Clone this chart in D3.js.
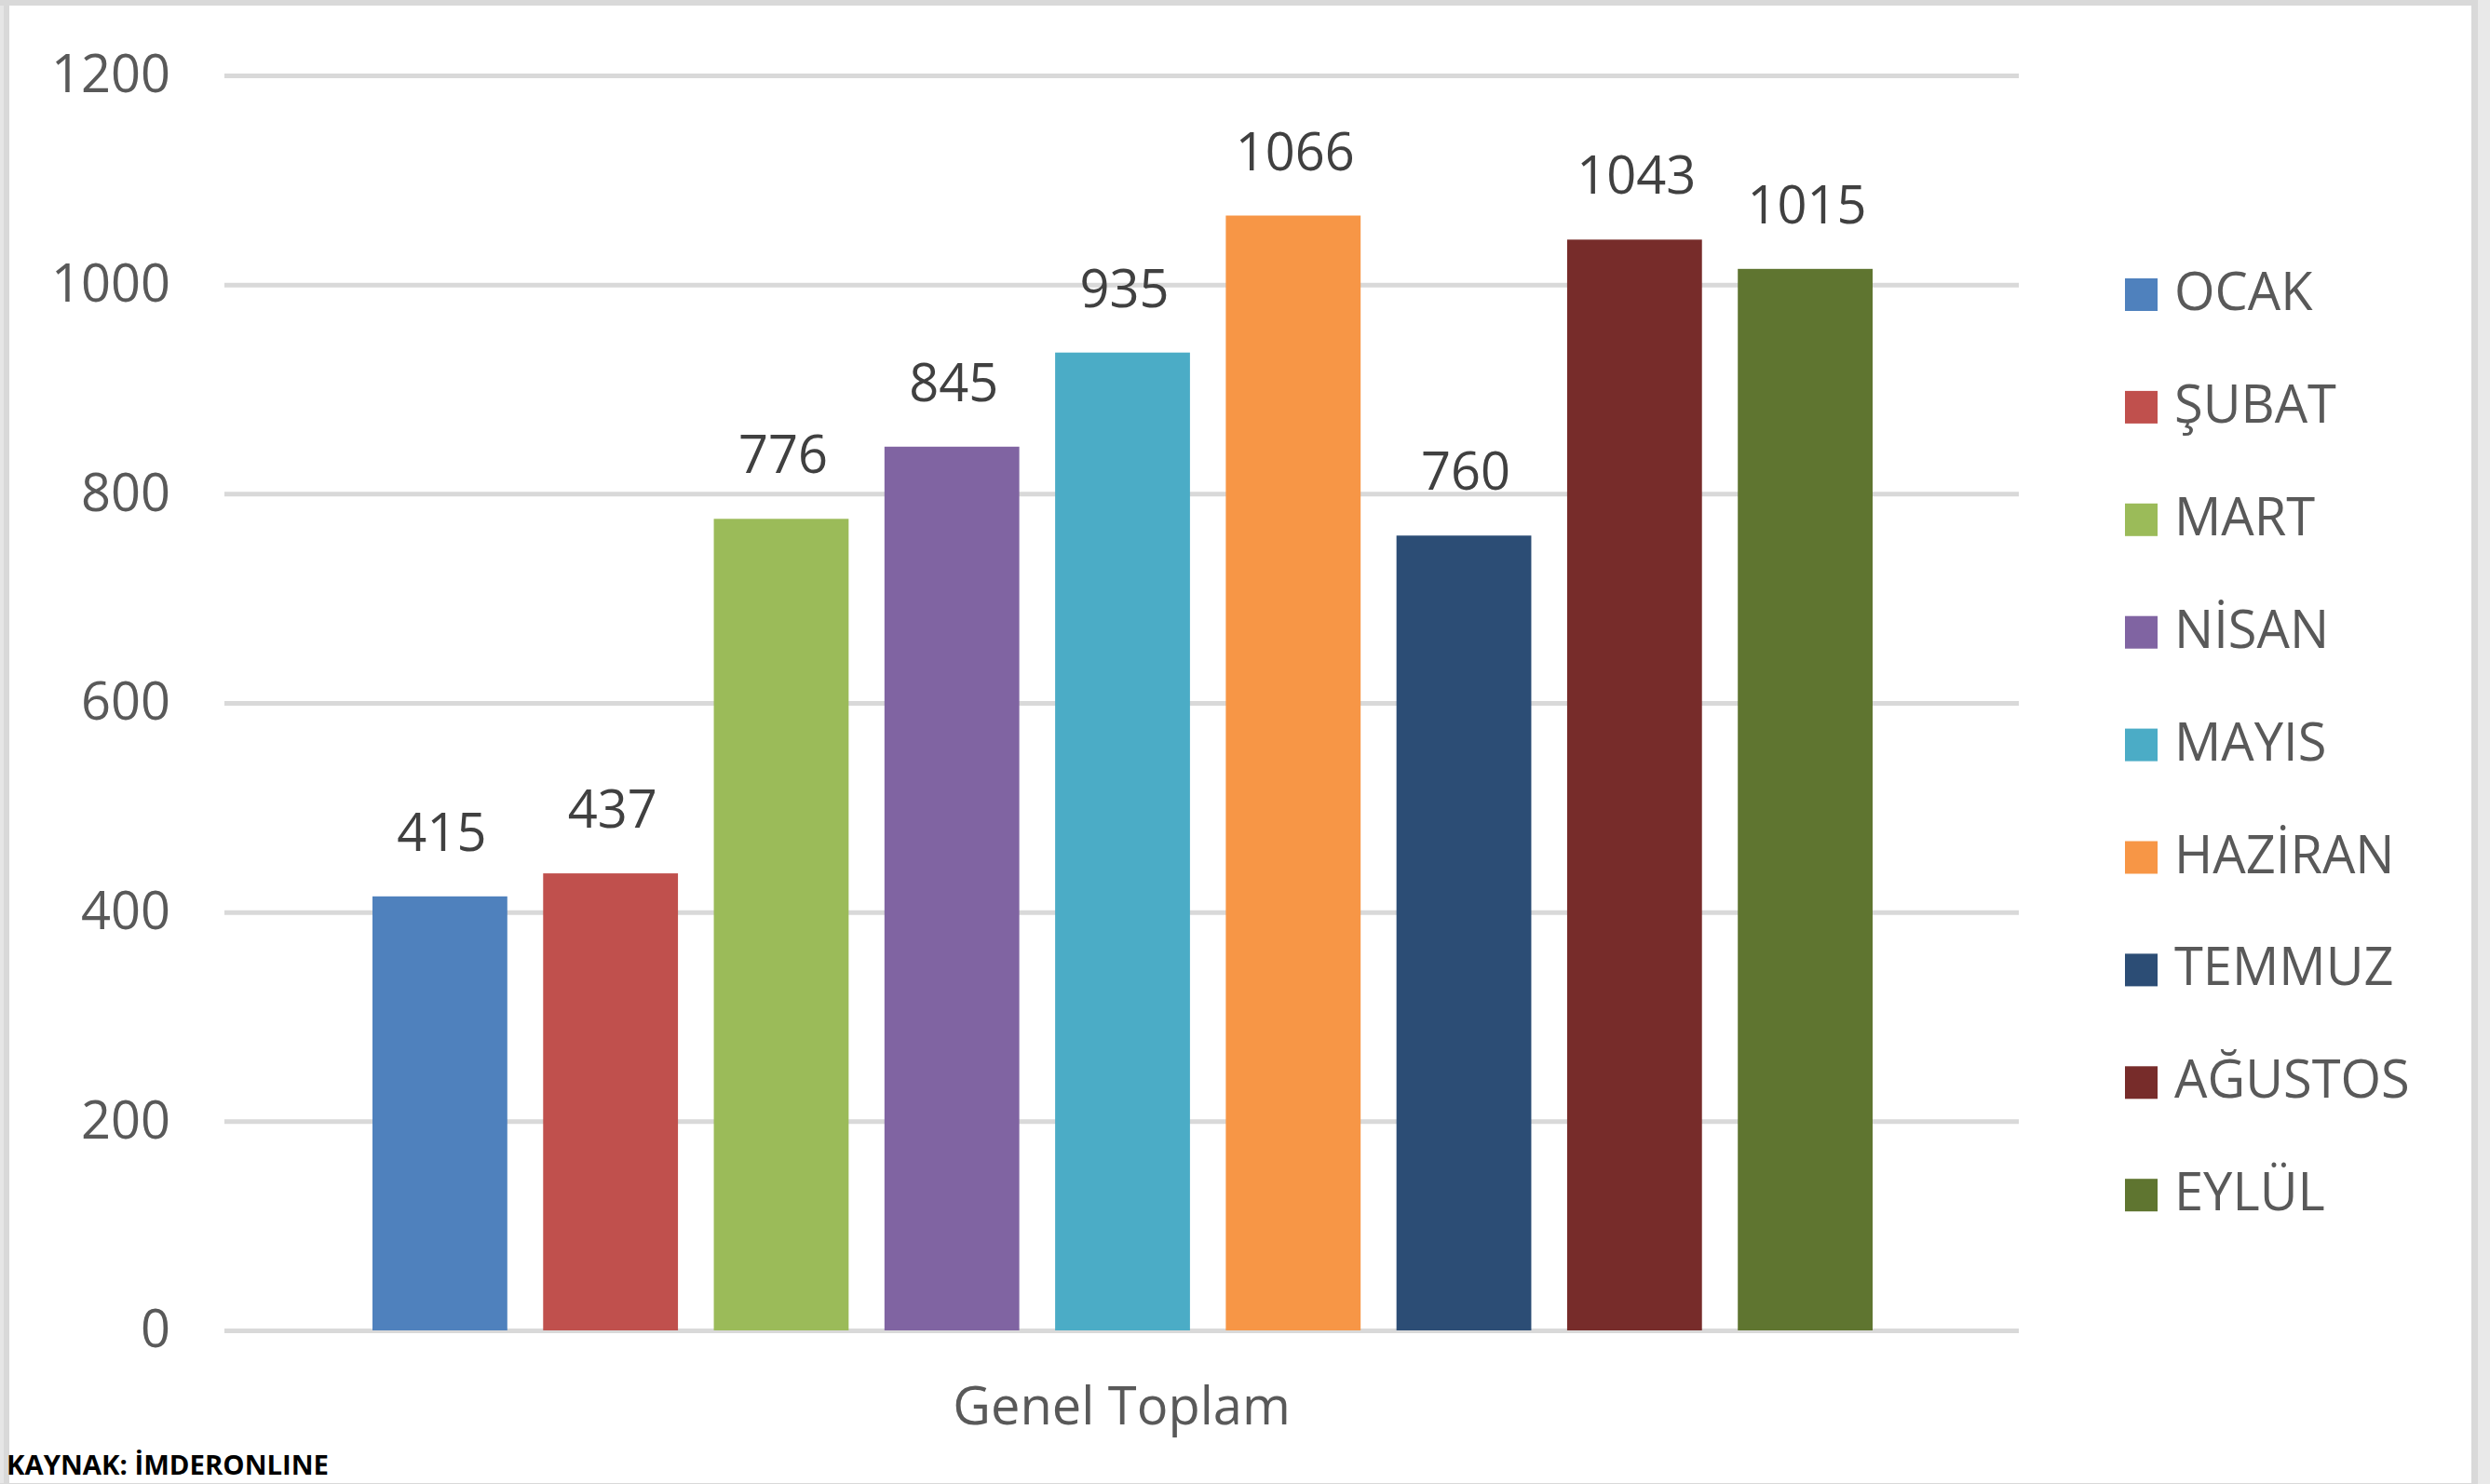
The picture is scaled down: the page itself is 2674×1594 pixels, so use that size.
<!DOCTYPE html>
<html>
<head>
<meta charset="utf-8">
<script src="https://cdn.jsdelivr.net/npm/d3@7"></script>
<style>
  body { margin: 0; background: #e9e9e9; }
  text { font-family: "Open Sans", sans-serif; }
</style>
</head>
<body>
<script>
// data
var months = ["OCAK", "ŞUBAT", "MART", "NİSAN", "MAYIS", "HAZİRAN", "TEMMUZ", "AĞUSTOS", "EYLÜL"];
var values = [415, 437, 776, 845, 935, 1066, 760, 1043, 1015];
var colors = ["#4f81bd", "#c0504d", "#9bbb59", "#8064a2", "#4bacc6", "#f79646", "#2c4d75", "#772c2a", "#5f7530"];
var yTicks = [0, 200, 400, 600, 800, 1000, 1200];
var categoryLabel = "Genel Toplam";
var sourceText = "KAYNAK: İMDERONLINE";

var width = 2674, height = 1594;
var plot = {left: 241, right: 2168, top: 81, bottom: 1429};

var svg = d3.select("body").append("svg")
    .attr("width", width)
    .attr("height", height);

// frame
svg.append("rect").attr("x", 0).attr("y", 0).attr("width", 2661).attr("height", height).attr("fill", "#d9d9d9");
svg.append("rect").attr("x", 0).attr("y", 6).attr("width", 4).attr("height", height).attr("fill", "#e6e6e6");
svg.append("rect").attr("x", 10).attr("y", 6).attr("width", 2644).attr("height", height - 6).attr("fill", "#fff");
svg.append("line").attr("x1", 0).attr("x2", 2661).attr("y1", 1593.5).attr("y2", 1593.5)
    .attr("stroke", "#d9d9d9").attr("stroke-width", 1);

// scales
var y = d3.scaleLinear().domain([0, 1200]).range([plot.bottom, plot.top]);
var x = d3.scaleBand().domain(months).range([400, 2011]).paddingInner(0.21).paddingOuter(0);

// y axis + gridlines
var yAxis = svg.append("g")
    .attr("transform", "translate(" + plot.left + ",0)")
    .call(d3.axisLeft(y).tickValues(yTicks).tickFormat(d3.format("d"))
        .tickSize(-(plot.right - plot.left)).tickPadding(58));
yAxis.select(".domain").remove();
yAxis.selectAll(".tick line").attr("stroke", "#d9d9d9").attr("stroke-width", 5);
yAxis.selectAll(".tick text")
    .attr("font-family", "Open Sans")
    .attr("font-size", 56)
    .attr("fill", "#595959");

// bars
svg.selectAll(".bar")
  .data(months)
  .enter().append("rect")
    .attr("class", "bar")
    .attr("x", d => x(d))
    .attr("y", (d, i) => y(values[i]))
    .attr("width", x.bandwidth())
    .attr("height", (d, i) => y(0) - y(values[i]))
    .attr("fill", (d, i) => colors[i]);

// value labels
svg.selectAll(".label")
  .data(months)
  .enter().append("text")
    .attr("class", "label")
    .attr("x", d => x(d) + x.bandwidth() / 2 + 2)
    .attr("y", (d, i) => y(values[i]) - 49)
    .attr("text-anchor", "middle")
    .attr("font-size", 56)
    .attr("fill", "#404040")
    .text((d, i) => values[i]);

// category label
svg.append("text")
    .attr("x", (plot.left + plot.right) / 2)
    .attr("y", 1530)
    .attr("text-anchor", "middle")
    .attr("font-size", 56)
    .attr("fill", "#595959")
    .text(categoryLabel);

// legend
var legend = svg.selectAll(".legend")
  .data(months)
  .enter().append("g")
    .attr("class", "legend")
    .attr("transform", (d, i) => "translate(2282," + (316 + i * 120.9) + ")");
legend.append("rect")
    .attr("x", 0).attr("y", -17)
    .attr("width", 35).attr("height", 35)
    .attr("fill", (d, i) => colors[i]);
legend.append("text")
    .attr("x", 53).attr("y", 17)
    .attr("font-size", 56)
    .attr("fill", "#595959")
    .text(d => d);

// source note
svg.append("text")
    .attr("x", 7)
    .attr("y", 1584)
    .attr("font-family", "DejaVu Sans")
    .attr("font-weight", "bold")
    .attr("font-size", 28)
    .attr("fill", "#000")
    .attr("textLength", 346)
    .attr("lengthAdjust", "spacingAndGlyphs")
    .text(sourceText);
</script>
</body>
</html>
